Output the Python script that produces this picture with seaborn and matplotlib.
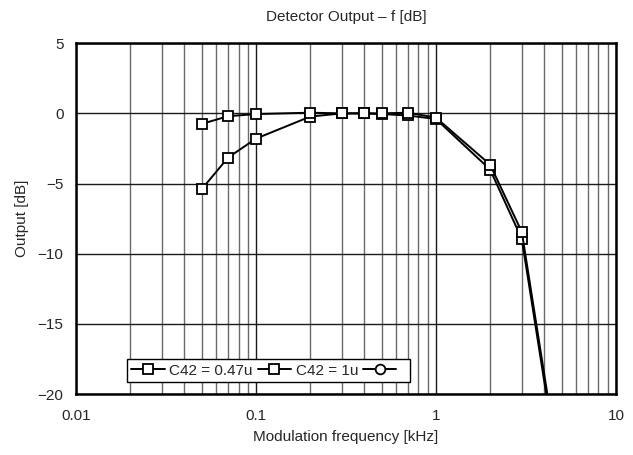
import matplotlib
matplotlib.use("Agg")
import matplotlib.pyplot as plt
from matplotlib.lines import Line2D
from matplotlib.ticker import FixedLocator, LogLocator, NullFormatter
import seaborn as sns

# Werte
freq_khz = [0.05, 0.07, 0.1, 0.2, 0.3, 0.4, 0.5, 0.7, 1.0, 2.0, 3.0, 5.0]
out_c047 = [-5.4, -3.15, -1.8, -0.23, 0.0, 0.0, -0.05, -0.15, -0.4, -4.0, -8.95, -27.0]
out_c1 = [-0.75, -0.2, -0.05, 0.05, 0.0, 0.0, 0.0, 0.05, -0.3, -3.65, -8.45, -26.5]
series_names = ["C42 = 0.47u", "C42 = 1u", " "]
y_ticks = [-20, -15, -10, -5, 0, 5]

sns.set_style("white")
plt.rcParams['font.family'] = ['Liberation Sans', 'DejaVu Sans']

fig = plt.figure(figsize=(6.33, 4.55), dpi=100)
ax = fig.add_axes([0.12, 0.134, 0.853, 0.771])

marker_kw = dict(color='black', linewidth=1.4, marker='s', markersize=7,
                 markerfacecolor='white', markeredgecolor='black',
                 markeredgewidth=1.3)

sns.lineplot(x=freq_khz, y=out_c047, ax=ax, **marker_kw)
sns.lineplot(x=freq_khz, y=out_c1, ax=ax, **marker_kw)

ax.set_xscale('log')
ax.set_xlim(0.01, 10)
ax.set_ylim(-20, 5)
ax.set_yticks(y_ticks)
ax.xaxis.set_major_locator(FixedLocator([0.01, 0.1, 1, 10]))
ax.set_xticklabels(["0.01", "0.1", "1", "10"])
ax.xaxis.set_minor_locator(LogLocator(base=10, subs=range(2, 10)))
ax.xaxis.set_minor_formatter(NullFormatter())

ax.grid(which='major', color='#1a1a1a', linewidth=1.0)
ax.grid(which='minor', axis='x', color='#6a6a6a', linewidth=1.0)
ax.set_axisbelow(True)
ax.tick_params(which='both', length=0, labelsize=11)
ax.tick_params(axis='x', pad=11)
ax.tick_params(axis='y', pad=9)
for sp in ax.spines.values():
    sp.set_color('black')
    sp.set_linewidth(1.8)
    sp.set_visible(True)

ax.set_title("Detector Output – f [dB]", fontsize=11, pad=16)
ax.set_xlabel("Modulation frequency [kHz]", fontsize=11, labelpad=5)
ax.set_ylabel("Output [dB]", fontsize=11, labelpad=6)

handles = [
    Line2D([], [], **marker_kw),
    Line2D([], [], **marker_kw),
    Line2D([], [], color='black', linewidth=1.4, marker='o', markersize=7,
           markerfacecolor='white', markeredgecolor='black', markeredgewidth=1.3),
]
leg = ax.legend(handles, series_names, ncol=3, loc='lower left',
                bbox_to_anchor=(0.094, 0.034), frameon=True, fancybox=False,
                fontsize=11, handlelength=2.2, handletextpad=0.3,
                columnspacing=0.3, borderpad=0.3, borderaxespad=0)
leg.get_frame().set_edgecolor('black')
leg.get_frame().set_linewidth(1.0)
leg.get_frame().set_alpha(1)

fig.savefig("out.png", dpi=100)
